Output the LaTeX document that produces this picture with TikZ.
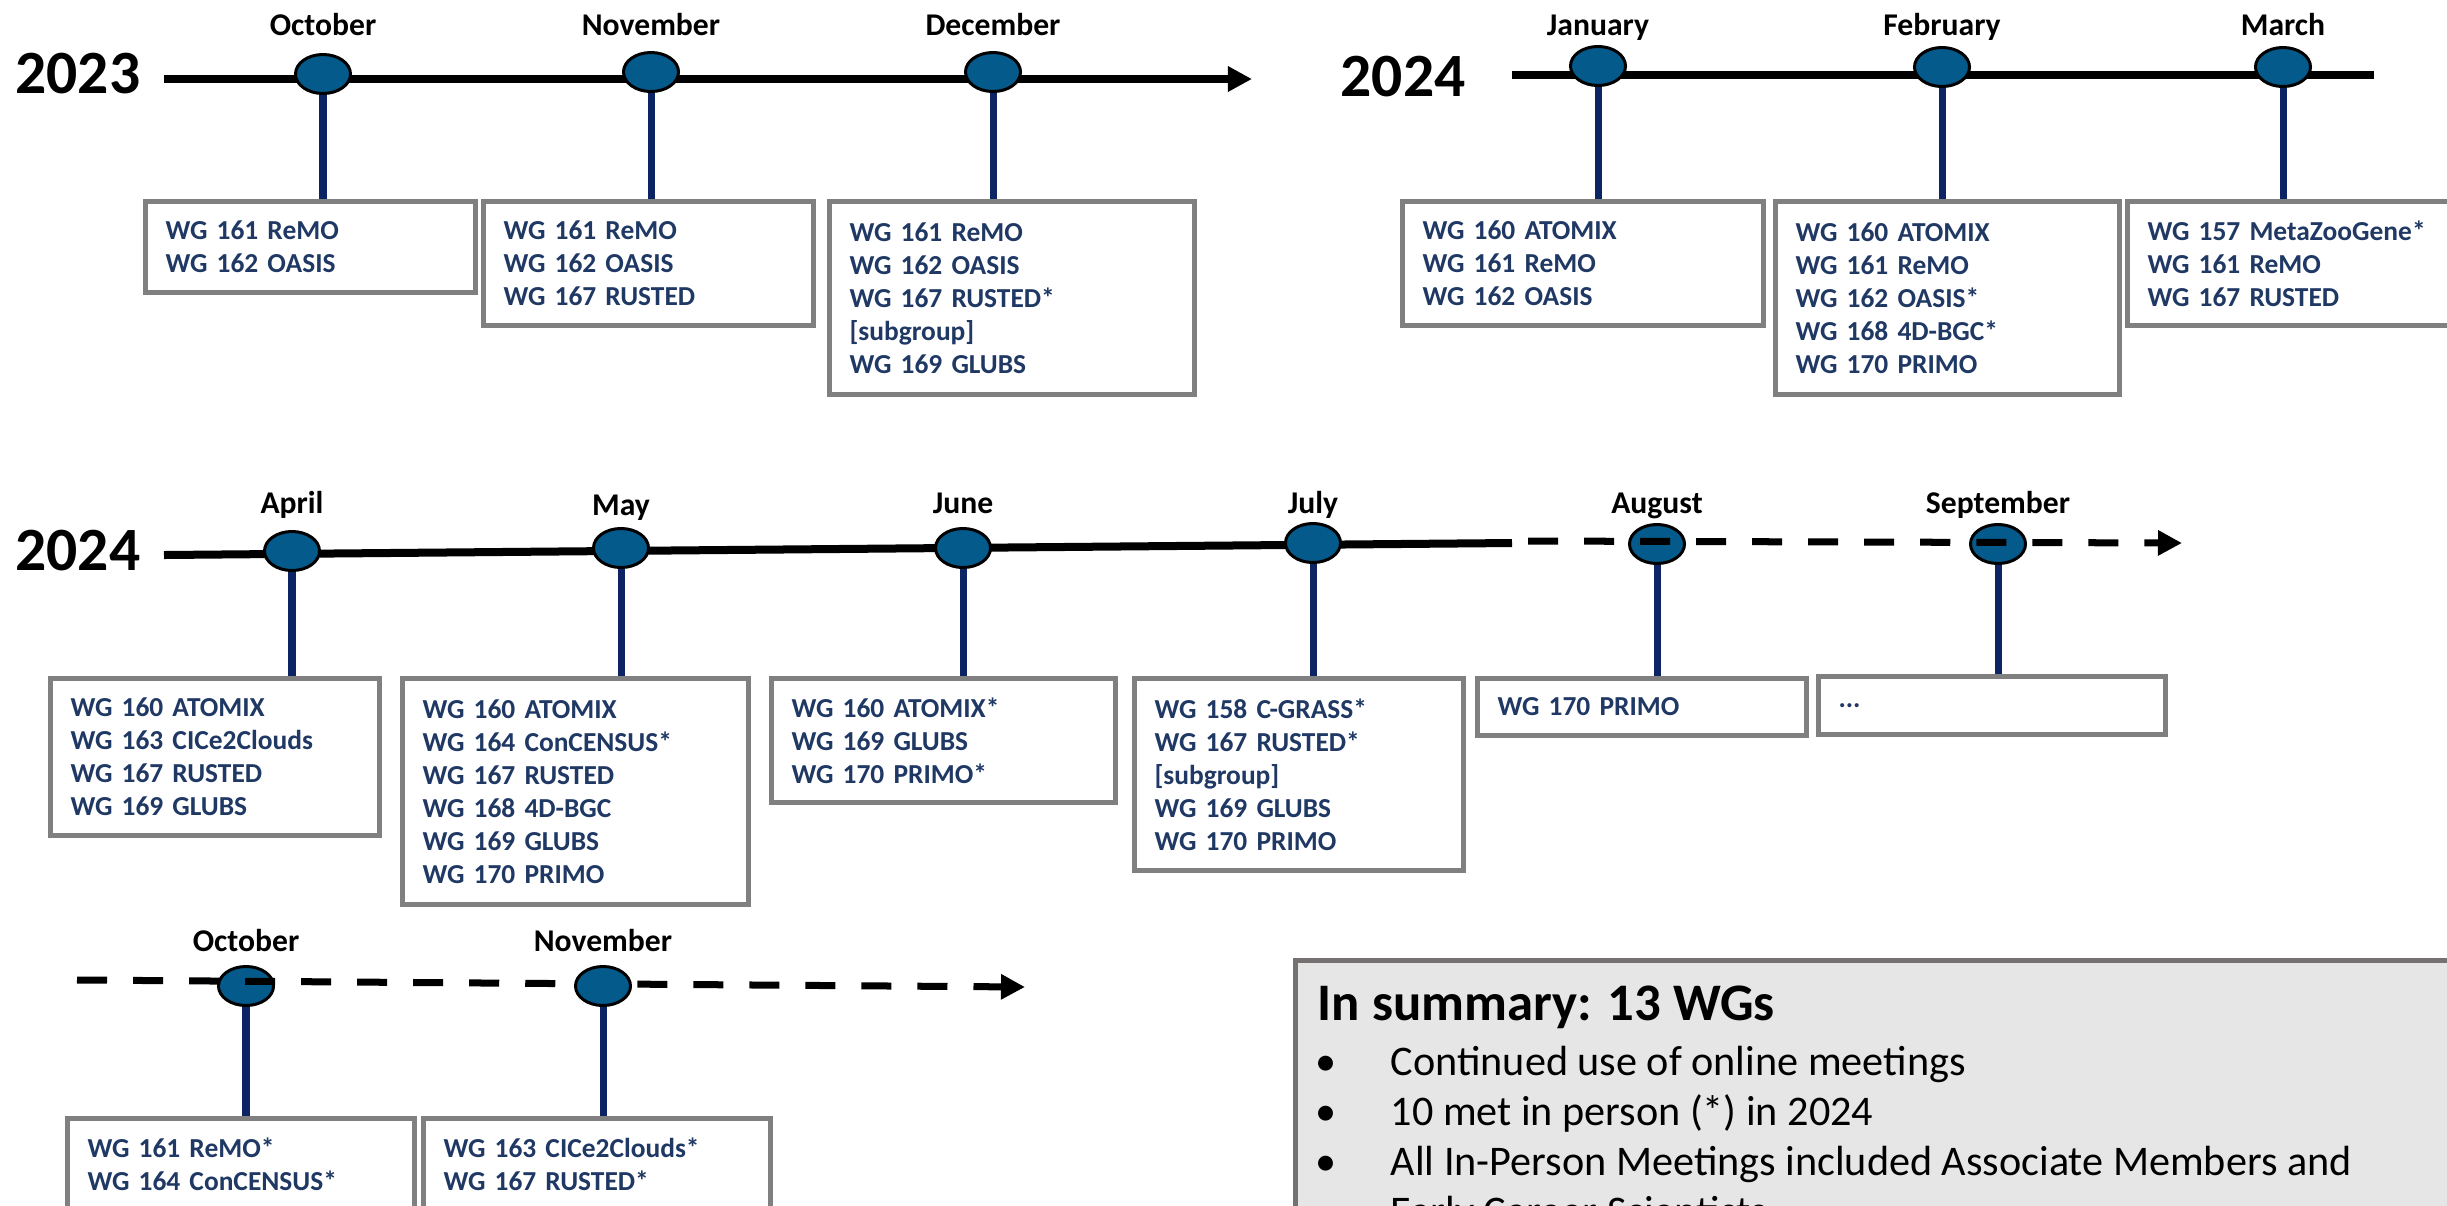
\documentclass[tikz,border=0pt]{standalone}
\usepackage{fontspec}
\setmainfont{Carlito}
\usepackage{tikz}
\usetikzlibrary{positioning, shapes.geometric, arrows.meta}

\definecolor{dotblue}{RGB}{5,90,140}
\definecolor{stemblue}{RGB}{12,36,100}
\definecolor{wgblue}{RGB}{31,56,100}
\definecolor{boxgray}{RGB}{128,128,128}
\definecolor{sumgray}{RGB}{230,230,230}
\definecolor{sumedge}{RGB}{118,113,113}

\begin{document}
\begin{tikzpicture}[x=0.01cm, y=-0.01cm,
   event/.style={ellipse, draw=black, line width=0.03cm, fill=dotblue,
                 minimum width=0.55cm, minimum height=0.39cm, inner sep=0pt},
   monthlbl/.style={font=\bfseries\fontsize{9}{11}\selectfont, inner sep=0pt, anchor=base},
   yearlbl/.style={font=\bfseries\fontsize{17.5}{20}\selectfont, inner sep=0pt},
   axisline/.style={line width=0.08cm},
   dashline/.style={line width=0.07cm, dash pattern=on 0.3cm off 0.26cm},
   arrowtip/.style={-{Triangle[length=0.24cm, width=0.24cm]}},
   stemline/.style={draw=stemblue, line width=0.07cm},
   wgbox/.style={draw=boxgray, line width=0.05cm, fill=white, anchor=north west,
                 align=left, inner xsep=0.2cm, inner ysep=0pt, text=wgblue,
                 font=\bfseries\fontsize{7.8}{9.4}\selectfont},
   sumbox/.style={draw=sumedge, line width=0.05cm, fill=sumgray, anchor=north west},
   sumtitle/.style={font=\bfseries\fontsize{15}{18}\selectfont, inner sep=0pt, anchor=base west},
   sumline/.style={font=\fontsize{12}{14}\selectfont, inner sep=0pt, anchor=base west}]

   \useasboundingbox (0,0) rectangle (2447,1205);
   \clip (0,0) rectangle (2447,1205);

   % 2023
   \coordinate (a23s) at (164,79);
   \coordinate (a23e) at (1252,79);
   \draw[axisline, arrowtip] (a23s) -- (a23e);
   \node[yearlbl, left=0.23cm of a23s, yshift=0.05cm] (y23) {2023};

   \node[event] (oct23) at (323,74) {};
   \node[event] (nov23) at (651,72) {};
   \node[event] (dec23) at (993,72) {};
   \node[monthlbl] (oct23l) at (oct23 |- 0,35) {October};
   \node[monthlbl] (nov23l) at (nov23 |- 0,35) {November};
   \node[monthlbl] (dec23l) at (dec23 |- 0,35) {December};

   \node[wgbox, text width=2.90cm, minimum height=0.91cm] (oct23b) at (143,199)
        {WG 161 ReMO\\WG 162 OASIS};
   \node[wgbox, text width=2.90cm, minimum height=1.24cm] (nov23b) at (481,199)
        {WG 161 ReMO\\WG 162 OASIS\\WG 167 RUSTED};
   \node[wgbox, text width=3.25cm, minimum height=1.93cm] (dec23b) at (827,199)
        {WG 161 ReMO\\WG 162 OASIS\\WG 167 RUSTED*\\{[}subgroup{]}\\WG 169 GLUBS};

   % 2024, first quarter
   \coordinate (b24s) at (1512,75);
   \coordinate (b24e) at (2374,75);
   \draw[axisline] (b24s) -- (b24e);
   \node[yearlbl] (y24a) at (1403,77) {2024};

   \node[event] (jan24) at (1598,66) {};
   \node[event] (feb24) at (1942,67) {};
   \node[event] (mar24) at (2283,67) {};
   \node[monthlbl] (jan24l) at (jan24 |- 0,35) {January};
   \node[monthlbl] (feb24l) at (feb24 |- 0,35) {February};
   \node[monthlbl] (mar24l) at (mar24 |- 0,35) {March};

   \node[wgbox, text width=3.21cm, minimum height=1.24cm] (jan24b) at (1400,199)
        {WG 160 ATOMIX\\WG 161 ReMO\\WG 162 OASIS};
   \node[wgbox, text width=3.04cm, minimum height=1.93cm] (feb24b) at (1773,199)
        {WG 160 ATOMIX\\WG 161 ReMO\\WG 162 OASIS*\\WG 168 4D-BGC*\\WG 170 PRIMO};
   \node[wgbox, text width=3.60cm, minimum height=1.24cm] (mar24b) at (2125,199)
        {WG 157 MetaZooGene*\\WG 161 ReMO\\WG 167 RUSTED};

   % 2024, April to September
   \coordinate (c24s) at (164,555);
   \coordinate (c24m) at (1512,543);
   \coordinate (c24d) at (1528,541);
   \coordinate (c24e) at (2182,543);
   \draw[axisline] (c24s) -- (c24m);
   \node[yearlbl, left=0.23cm of c24s, yshift=0.04cm] (y24b) {2024};

   \node[event] (apr24) at (292,551) {};
   \node[event] (may24) at (621,548) {};
   \node[event] (jun24) at (963,548) {};
   \node[event] (jul24) at (1313,543) {};
   \node[event] (aug24) at (1657,544) {};
   \node[event] (sep24) at (1998,544) {};
   \draw[dashline, arrowtip] (c24d) -- (c24e);
   \node[monthlbl] (apr24l) at (apr24 |- 0,513) {April};
   \node[monthlbl] (may24l) at (may24 |- 0,515) {May};
   \node[monthlbl] (jun24l) at (jun24 |- 0,513) {June};
   \node[monthlbl] (jul24l) at (jul24 |- 0,513) {July};
   \node[monthlbl] (aug24l) at (aug24 |- 0,513) {August};
   \node[monthlbl] (sep24l) at (sep24 |- 0,513) {September};

   \node[wgbox, text width=2.89cm, minimum height=1.57cm] (apr24b) at (48,676)
        {WG 160 ATOMIX\\WG 163 CICe2Clouds\\WG 167 RUSTED\\WG 169 GLUBS};
   \node[wgbox, text width=3.06cm, minimum height=2.26cm] (may24b) at (400,676)
        {WG 160 ATOMIX\\WG 164 ConCENSUS*\\WG 167 RUSTED\\WG 168 4D-BGC\\WG 169 GLUBS\\WG 170 PRIMO};
   \node[wgbox, text width=3.04cm, minimum height=1.24cm] (jun24b) at (769,676)
        {WG 160 ATOMIX*\\WG 169 GLUBS\\WG 170 PRIMO*};
   \node[wgbox, text width=2.89cm, minimum height=1.92cm] (jul24b) at (1132,676)
        {WG 158 C-GRASS*\\WG 167 RUSTED*\\{[}subgroup{]}\\WG 169 GLUBS\\WG 170 PRIMO};
   \node[wgbox, text width=2.89cm, minimum height=0.57cm] (aug24b) at (1475,676)
        {WG 170 PRIMO};
   \node[wgbox, text width=3.07cm, minimum height=0.58cm] (sep24b) at (1816,674)
        {...};

   % 2024, October and November
   \coordinate (d24s) at (77,980);
   \coordinate (d24e) at (1025,987);
   \node[event] (oct24) at (246,986) {};
   \draw[dashline, arrowtip] (d24s) -- (d24e);
   \node[event] (nov24) at (603,986) {};
   \node[monthlbl] (oct24l) at (oct24 |- 0,951) {October};
   \node[monthlbl] (nov24l) at (nov24 |- 0,951) {November};

   \node[wgbox, text width=3.07cm, minimum height=0.91cm] (oct24b) at (65,1116)
        {WG 161 ReMO*\\WG 164 ConCENSUS*};
   \node[wgbox, text width=3.07cm, minimum height=0.91cm] (nov24b) at (421,1116)
        {WG 163 CICe2Clouds*\\WG 167 RUSTED*};

   % stems
   \foreach \m in {oct23, nov23, dec23, jan24, feb24, mar24,
                   apr24, may24, jun24, jul24, aug24, sep24, oct24, nov24}
      \draw[stemline] (\m.south) -- (\m.south |- \m b.north);

   % summary
   \node[sumbox, minimum width=12cm, minimum height=3cm] (summ) at (1293,958) {};
   \node[sumtitle] (sumt) at (1317,1020) {In summary: 13 WGs};
   \node[sumline] (s1) at (1390,1075) {Continued use of online meetings};
   \node[sumline] (s2) at (1390,1125) {10 met in person (*) in 2024};
   \node[sumline] (s3) at (1390,1175) {All In-Person Meetings included Associate Members and};
   \node[sumline] (s4) at (1390,1225) {Early Career Scientists};
   \foreach \s in {s1, s2, s3}
      \node[sumline, anchor=base] at (1326,0 |- \s.base) {•};
\end{tikzpicture}
\end{document}
